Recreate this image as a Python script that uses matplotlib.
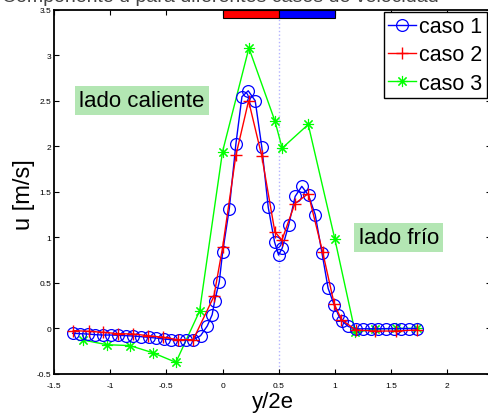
import matplotlib
matplotlib.use("Agg")
import matplotlib.pyplot as plt
from matplotlib.patches import Rectangle

plt.rcParams['font.family'] = ['Liberation Sans', 'DejaVu Sans']

# caso 1 (blue circles)
x1 = [-1.334, -1.269, -1.200, -1.133, -1.064, -0.996, -0.928, -0.859, -0.794, -0.726,
      -0.658, -0.593, -0.524, -0.456, -0.391, -0.326, -0.261, -0.195, -0.136, -0.092,
      -0.070, -0.029, 0.001, 0.060, 0.119, 0.173, 0.229, 0.291, 0.350, 0.407,
      0.463, 0.499, 0.531, 0.588, 0.647, 0.706, 0.766, 0.825, 0.885, 0.940,
      0.994, 1.030, 1.060, 1.120, 1.187, 1.252, 1.318, 1.385, 1.454, 1.525,
      1.593, 1.661, 1.727]
u1 = [-0.055, -0.059, -0.063, -0.070, -0.074, -0.074, -0.077, -0.081, -0.085, -0.092,
      -0.099, -0.107, -0.118, -0.125, -0.129, -0.132, -0.125, -0.081, 0.025, 0.150,
      0.300, 0.510, 0.835, 1.310, 2.025, 2.545, 2.610, 2.500, 1.990, 1.330,
      0.950, 0.805, 0.880, 1.130, 1.450, 1.560, 1.460, 1.250, 0.830, 0.440,
      0.256, 0.150, 0.084, 0.020, -0.008, -0.005, -0.005, -0.004, -0.004, -0.004,
      -0.004, -0.004, -0.004]

# caso 2 (red plus)
x2 = [-1.328, -1.189, -1.061, -0.928, -0.794, -0.661, -0.528, -0.394, -0.261, -0.077,
      0.001, 0.119, 0.232, 0.350, 0.466, 0.529, 0.644, 0.763, 0.891, 0.994,
      1.059, 1.187, 1.356, 1.543, 1.727]
u2 = [-0.026, -0.033, -0.044, -0.059, -0.063, -0.081, -0.099, -0.125, -0.125, 0.350,
      0.890, 1.900, 2.500, 1.890, 1.060, 0.970, 1.370, 1.480, 0.840, 0.270,
      0.095, -0.019, -0.030, -0.030, -0.019]

# caso 3 (green stars)
x3 = [-1.239, -1.031, -0.824, -0.617, -0.415, -0.204, 0.000, 0.235, 0.466, 0.531,
      0.763, 1.000, 1.181, 1.356, 1.543, 1.727]
u3 = [-0.129, -0.180, -0.190, -0.270, -0.374, 0.190, 1.940, 3.080, 2.280, 1.980,
      2.240, 0.980, -0.044, -0.008, 0.000, 0.000]

xticks = [-1.5, -1, -0.5, 0, 0.5, 1, 1.5, 2]
xticklabels = ['-1.5', '-1', '-0.5', '0', '0.5', '1', '1.5', '2']
yticks = [-0.5, 0, 0.5, 1, 1.5, 2, 2.5, 3, 3.5]
yticklabels = ['-0.5', '0', '0.5', '1', '1.5', '2', '2.5', '3', '3.5']

W, H = 489, 414
fig = plt.figure(figsize=(W / 100, H / 100), dpi=100)
left, right, top, bottom = 54, 491, 10.8, 374.8
ax = fig.add_axes([left / W, (H - bottom) / H, (right - left) / W, (bottom - top) / H])

ax.axvline(0.5, color=(0.7, 0.7, 1.0), linestyle=':', linewidth=1.0, zorder=1)

ax.plot(x3, u3, color=(0, 1, 0), marker=(8, 2, 0), markersize=8, markeredgewidth=0.8,
        linewidth=1.0, label='caso 3', zorder=3)
ax.plot(x1, u1, color=(0, 0, 1), marker='o', markersize=8.5, markerfacecolor='none',
        markeredgewidth=0.9, linewidth=1.0, label='caso 1', zorder=4)
ax.plot(x2, u2, color=(1, 0, 0), marker='+', markersize=9, markeredgewidth=1.0,
        linewidth=1.0, label='caso 2', zorder=5)

ax.set_xlim(-1.5, 2.39)
ax.set_ylim(-0.5, 3.5)
ax.set_xticks(xticks)
ax.set_xticklabels(xticklabels)
ax.set_yticks(yticks)
ax.set_yticklabels(yticklabels)
ax.tick_params(direction='in', length=3.5, width=0.8, labelsize=6,
               top=True, right=True, colors='black')
ax.tick_params(axis='x', pad=6)
ax.tick_params(axis='y', pad=2)
for s in ax.spines.values():
    s.set_linewidth(1.3)

ax.add_patch(Rectangle((0, 3.41), 0.5, 0.09, facecolor=(1, 0, 0), edgecolor='black',
                       linewidth=0.8, zorder=6, clip_on=False))
ax.add_patch(Rectangle((0.5, 3.41), 0.5, 0.09, facecolor=(0, 0, 1), edgecolor='black',
                       linewidth=0.8, zorder=6, clip_on=False))

box = dict(facecolor=(0.7, 0.9, 0.7), edgecolor='none', pad=3)
ax.text(-0.717, 2.503, 'lado caliente', fontsize=16, ha='center', va='center', bbox=box)
ax.text(1.569, 0.998, 'lado frío', fontsize=16, ha='center', va='center', bbox=box)

ax.set_xlabel('y/2e', fontsize=16)
ax.set_ylabel('u [m/s]', fontsize=17)
ax.xaxis.set_label_coords(0.501, -0.048)
ax.yaxis.set_label_coords(-0.043, 0.494)

handles, labels = ax.get_legend_handles_labels()
order = [1, 2, 0]
leg = ax.legend([handles[i] for i in order], [labels[i] for i in order],
                loc='upper right', bbox_to_anchor=(487 / W, 1 - 13 / H),
                bbox_transform=fig.transFigure, borderaxespad=0, fontsize=15.5,
                fancybox=False, framealpha=1, edgecolor='black', handlelength=1.3,
                handletextpad=0.15, labelspacing=0.33, borderpad=0.2)
leg.get_frame().set_linewidth(1.0)

fig.text(0.45, 1 - 2 / H, 'Componente u para diferentes casos de velocidad',
         fontsize=14, ha='center', va='baseline', color='#444444')

fig.savefig('out.png', dpi=100)
